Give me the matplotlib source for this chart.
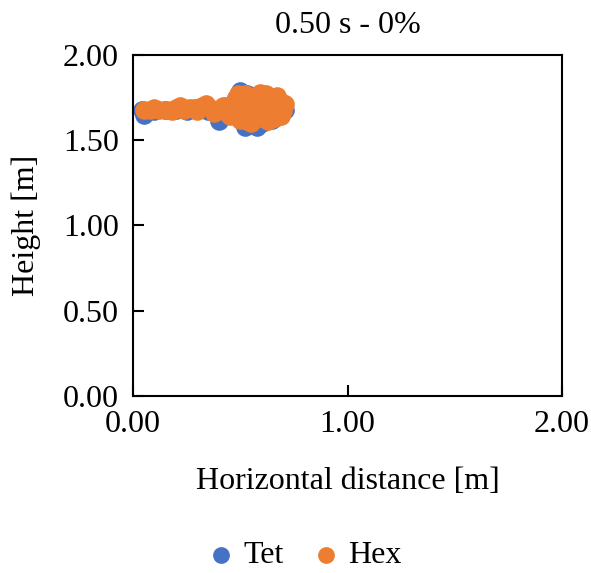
import matplotlib
matplotlib.use("Agg")
import matplotlib.pyplot as plt

plt.rcParams['font.family'] = ['Liberation Serif', 'DejaVu Serif']

tet_x = [0.04, 0.05, 0.10, 0.15, 0.20, 0.25, 0.30, 0.35, 0.40, 0.42, 0.45, 0.48,
         0.50, 0.52, 0.55, 0.58, 0.60, 0.62, 0.65, 0.68, 0.71, 0.50, 0.55, 0.60,
         0.53, 0.57, 0.64, 0.67]
tet_y = [1.68, 1.65, 1.67, 1.68, 1.68, 1.67, 1.69, 1.67, 1.61, 1.66, 1.70, 1.75,
         1.79, 1.58, 1.60, 1.58, 1.66, 1.74, 1.62, 1.70, 1.68, 1.68, 1.72, 1.60,
         1.77, 1.76, 1.75, 1.64]

hex_x = [0.05, 0.08, 0.12, 0.16, 0.20, 0.24, 0.28, 0.32, 0.36, 0.40, 0.44, 0.47,
         0.48, 0.50, 0.52, 0.54, 0.55, 0.57, 0.58, 0.60, 0.62, 0.63, 0.65, 0.66,
         0.68, 0.70, 0.70, 0.52, 0.56, 0.60, 0.49, 0.51, 0.53, 0.55, 0.57, 0.59,
         0.61, 0.63, 0.65, 0.67, 0.69, 0.64, 0.58, 0.54, 0.50, 0.46, 0.43, 0.38,
         0.10, 0.18, 0.22, 0.26, 0.30, 0.34, 0.38, 0.42, 0.45, 0.49, 0.53, 0.57,
         0.61, 0.66, 0.71, 0.69, 0.62, 0.59, 0.56, 0.51]
hex_y = [1.68, 1.68, 1.68, 1.68, 1.69, 1.68, 1.69, 1.70, 1.69, 1.68, 1.66, 1.71,
         1.75, 1.62, 1.77, 1.66, 1.60, 1.76, 1.70, 1.63, 1.77, 1.67, 1.74, 1.63,
         1.70, 1.67, 1.72, 1.70, 1.62, 1.74, 1.68, 1.73, 1.64, 1.69, 1.65, 1.78,
         1.70, 1.61, 1.69, 1.76, 1.64, 1.71, 1.63, 1.74, 1.65, 1.68, 1.70, 1.66,
         1.69, 1.67, 1.70, 1.69, 1.67, 1.71, 1.68, 1.70, 1.64, 1.77, 1.61, 1.72,
         1.66, 1.68, 1.71, 1.66, 1.73, 1.67, 1.70, 1.66]

ticks = [0.0, 0.5, 1.0, 1.5, 2.0]

fig = plt.figure(figsize=(5.91, 5.73), dpi=100)
ax = fig.add_axes([0.225, 0.309, 0.726, 0.595])

ax.scatter(tet_x, tet_y, s=180, color='#4472C4', label='Tet', zorder=2, linewidths=0)
ax.scatter(hex_x, hex_y, s=180, color='#ED7D31', label='Hex', zorder=3, linewidths=0)

ax.set_xlim(0, 2)
ax.set_ylim(0, 2)
ax.set_xticks([0.0, 1.0, 2.0])
ax.set_yticks(ticks)
ax.xaxis.set_major_formatter(matplotlib.ticker.FormatStrFormatter('%.2f'))
ax.yaxis.set_major_formatter(matplotlib.ticker.FormatStrFormatter('%.2f'))
ax.tick_params(direction='in', length=8, width=1.5, labelsize=23, pad=10)
for sp in ax.spines.values():
    sp.set_linewidth(1.5)

ax.set_title('0.50 s - 0%', fontsize=23, pad=16)
ax.set_xlabel('Horizontal distance [m]', fontsize=23, labelpad=20)
ax.set_ylabel('Height [m]', fontsize=23, labelpad=16)

fig.legend(loc='lower center', bbox_to_anchor=(0.5, -0.045), ncol=2, frameon=False,
           fontsize=23, handletextpad=-0.3, columnspacing=0.3, markerscale=0.9)

fig.savefig('out.png', dpi=100)
